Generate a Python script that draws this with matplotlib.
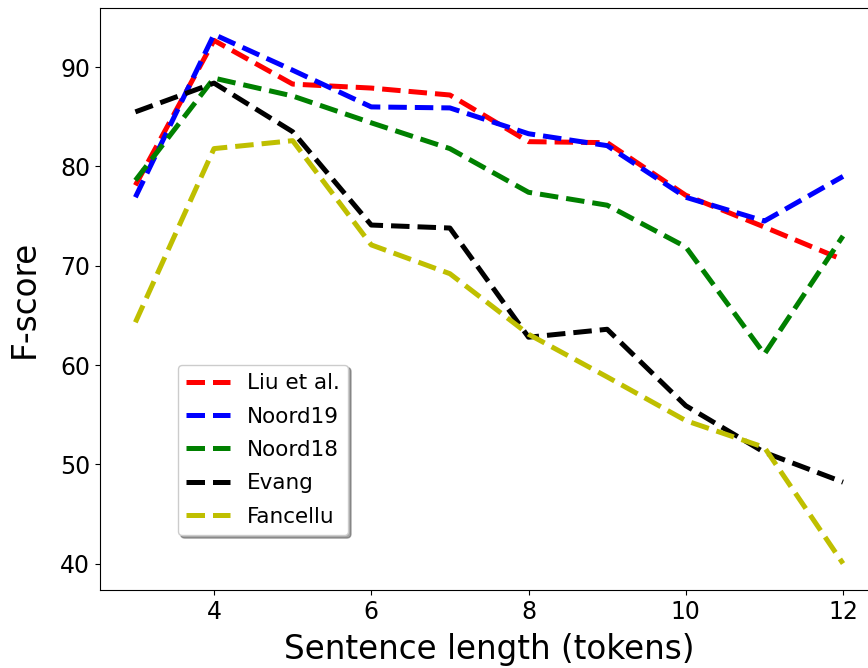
import matplotlib
matplotlib.use("Agg")
import matplotlib.pyplot as plt

lengths = [3, 4, 5, 6, 7, 8, 9, 10, 11, 12]
liu = [78.1, 92.7, 88.3, 87.9, 87.2, 82.5, 82.4, 77.1, 73.9, 70.6]
noord19 = [76.9, 93.3, 89.7, 86.0, 85.9, 83.3, 82.1, 76.9, 74.5, 79.0]
noord18 = [78.6, 88.9, 87.1, 84.4, 81.8, 77.4, 76.1, 71.9, 61.1, 73.0]
evang = [85.5, 88.4, 83.5, 74.1, 73.8, 62.8, 63.6, 55.9, 51.2, 48.2]
fancellu = [64.3, 81.8, 82.6, 72.1, 69.2, 63.1, 58.8, 54.4, 51.7, 40.0]

series_names = ["Liu et al.", "Noord19", "Noord18", "Evang", "Fancellu"]
series_colors = ["r", "b", "g", "k", "y"]
series_values = [liu, noord19, noord18, evang, fancellu]

fig = plt.figure(figsize=(8.68, 6.68), dpi=100)
ax = fig.add_axes([100 / 868, 1 - 590 / 668, 778.4 / 868, 582 / 668])

for name, col, vals in zip(series_names, series_colors, series_values):
    ax.plot(lengths, vals, linestyle="--", color=col, linewidth=3.6, label=name)

ax.set_xticks([4, 6, 8, 10, 12])
ax.set_yticks([40, 50, 60, 70, 80, 90])
ax.tick_params(labelsize=17)
ax.set_xlabel("Sentence length (tokens)", fontsize=23.5, labelpad=7)
ax.set_ylabel("F-score", fontsize=23.5, labelpad=14)

ax.legend(loc="lower left", bbox_to_anchor=(0.1, 0.094), fontsize=15.5,
          shadow=True, handlelength=2.0, borderaxespad=0.0, labelspacing=0.62)

fig.savefig("out.png", dpi=100)
